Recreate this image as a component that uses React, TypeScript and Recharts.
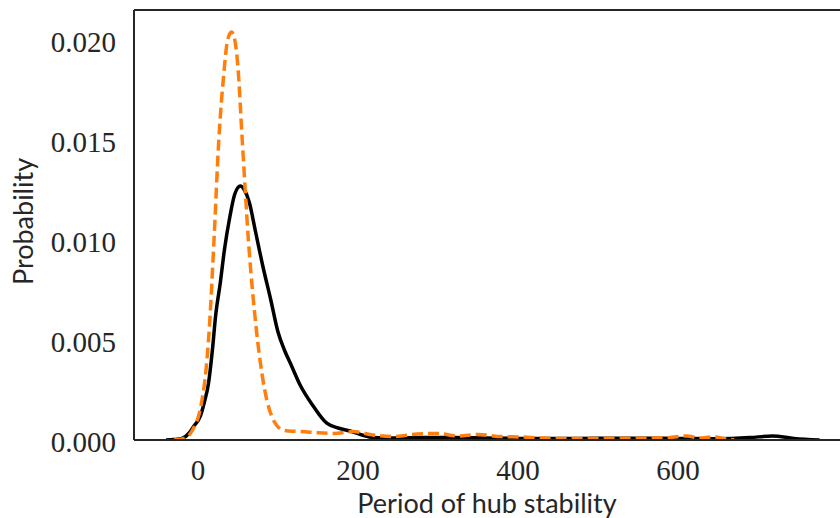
import React from 'react';
import { LineChart, Line, XAxis, YAxis, ReferenceLine } from 'recharts';

// Orange dashed KDE curve
const orangeX = [-30, -20, -10, -3, 0, 5, 10, 14, 20, 26, 32, 37, 42, 46, 50, 55, 63, 73, 80, 86, 92, 99, 106, 114, 130, 150, 170, 194, 219, 244, 274, 299, 325, 350, 379, 404, 429, 460, 500, 540, 580, 611, 627, 643, 660, 670];
const orangeY = [0, 0.00005, 0.0003, 0.0008, 0.0011, 0.002, 0.0035, 0.0055, 0.0100, 0.0150, 0.0182, 0.0200, 0.0204, 0.0200, 0.0186, 0.0152, 0.0100, 0.0055, 0.0033, 0.0020, 0.0012, 0.0007, 0.0005, 0.00045, 0.00042, 0.00036, 0.00033, 0.00042, 0.00025, 0.00017, 0.0003, 0.00033, 0.0002, 0.00028, 0.00017, 0.00015, 0.0001, 0.00007, 0.00008, 0.00009, 0.0001, 0.0002, 0.0001, 0.00016, 0.00006, 0.00001];

// Black solid KDE curve
const blackX = [-40, -30, -20, -11, -5, 3, 8, 13, 18, 22, 28, 33, 40, 46, 53, 58, 64, 72, 81, 91, 100, 108, 117, 127, 144, 161, 175, 190, 205, 219, 250, 280, 320, 360, 400, 450, 500, 550, 600, 650, 690, 718, 745, 777];
const blackY = [0, 0.00002, 0.00008, 0.00035, 0.0007, 0.0012, 0.0019, 0.0028, 0.0045, 0.0062, 0.0079, 0.0095, 0.0112, 0.0123, 0.0127, 0.0125, 0.0119, 0.0104, 0.0087, 0.0070, 0.0054, 0.0045, 0.0037, 0.0028, 0.0017, 0.00084, 0.0006, 0.00045, 0.00025, 0.00013, 0.0001, 0.00012, 0.00012, 0.0001, 0.00008, 0.00007, 0.00009, 0.00009, 0.00008, 0.00006, 0.00012, 0.0002, 0.00008, 0];

const xTicks = [0, 200, 400, 600];
const yTicks = [0, 0.005, 0.01, 0.015, 0.02];
const xDomain = [-80, 802.5];
const yDomain = [0, 0.0215];
const xLabel = 'Period of hub stability';
const yLabel = 'Probability';

const orangeData = orangeX.map((x, i) => ({ x, y: orangeY[i] }));
const blackData = blackX.map((x, i) => ({ x, y: blackY[i] }));

const tickFont = { fontFamily: '"Liberation Serif", serif', fontSize: 29, fill: '#262626' };
const labelFont = '"Lato", sans-serif';
const spine = '#262626';

const XLabel = (props: any) => {
  const vb = props.viewBox;
  return (
    <text x={vb.x + vb.width / 2} y={vb.y + 72.5} textAnchor="middle" fontFamily={labelFont} fontSize={27} fill="#262626">
      {xLabel}
    </text>
  );
};

const YLabel = (props: any) => {
  const vb = props.viewBox;
  const cx = vb.x + 33;
  const cy = vb.y + vb.height / 2 - 3.5;
  return (
    <text x={cx} y={cy} textAnchor="middle" fontFamily={labelFont} fontSize={27} fill="#262626" transform={`rotate(-90, ${cx}, ${cy})`}>
      {yLabel}
    </text>
  );
};

export default function App() {
  return (
    <div style={{ position: 'absolute', left: 0, top: 0, background: '#fff' }}>
      <LineChart width={840} height={518} margin={{ top: 10, right: 0, bottom: 0, left: 0 }}>
        <XAxis
          dataKey="x"
          type="number"
          domain={xDomain}
          ticks={xTicks}
          tickFormatter={(v: number) => String(v)}
          allowDataOverflow
          height={78}
          tickLine={false}
          tickSize={0}
          tickMargin={19}
          axisLine={{ stroke: spine, strokeWidth: 2 }}
          tick={tickFont}
          label={<XLabel />}
        />
        <YAxis
          type="number"
          domain={yDomain}
          ticks={yTicks}
          allowDataOverflow
          width={134}
          tickLine={false}
          tickSize={0}
          tickMargin={18}
          tickFormatter={(v: number) => v.toFixed(3)}
          axisLine={{ stroke: spine, strokeWidth: 2 }}
          tick={{ ...tickFont, dy: 2 }}
          label={<YLabel />}
        />
        <ReferenceLine y={yDomain[1]} stroke={spine} strokeWidth={2} ifOverflow="visible" />
        <Line data={blackData} dataKey="y" type="monotone" stroke="#000000" strokeWidth={3.5} dot={false} activeDot={false} isAnimationActive={false} />
        <Line data={orangeData} dataKey="y" type="monotone" stroke="#ff7f0e" strokeWidth={3.5} strokeDasharray="11 5" dot={false} activeDot={false} isAnimationActive={false} />
      </LineChart>
    </div>
  );
}
